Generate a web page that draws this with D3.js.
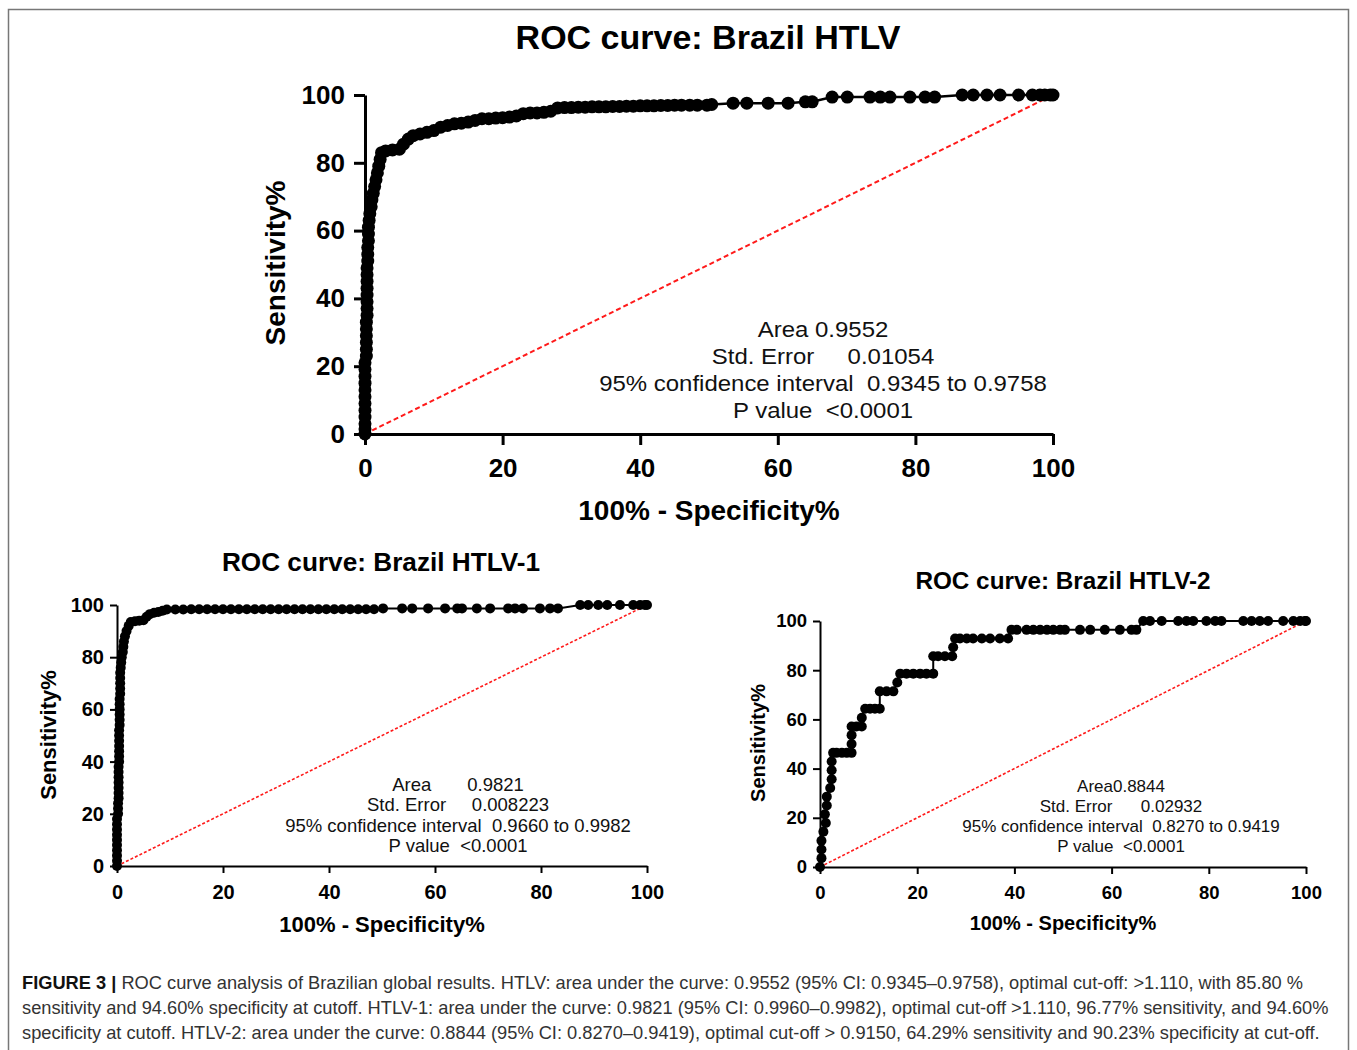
<!DOCTYPE html>
<html>
<head>
<meta charset="utf-8">
<script src="https://cdn.jsdelivr.net/npm/d3@7"></script>
<style>
  body { margin: 0; background: #fff; }
  text { font-family: "Liberation Sans", Arial, sans-serif; }
</style>
</head>
<body>
<svg id="fig" width="1357" height="1050"></svg>
<script>
// ROC points (100% - specificity, sensitivity)
var htlvSpec = [0,0,0,0,0,0,0,0,0,0,0,0,0.2,0.2,0.2,0.2,0.2,0.2,0.3,0.3,0.3,0.3,0.3,0.3,0.3,0.3,0.4,0.4,0.4,0.5,0.5,0.5,0.6,0.7,0.9,1.0,1.2,1.4,1.6,1.8,2.0,2.2,2.4,3,4,5,5.6,6.3,7,8,9,10,11,12,13,14,15,16,17,18,19,20,21,22,23,24,25,26,27,28,29,30,31,32,33,34,35,36,37,38,39,40,41,42,43,44,45,46,47.2,48.3,49.7,50.4,53.5,55.5,58.6,61.5,64,65,67.9,70.1,73.4,74.9,76.3,79.2,81.4,82.8,86.8,88.4,90.4,92.3,95,97,98.1,98.8,99.6,100];
var htlvSens = [0,1.5,3,5,7,9,11,13,15,17,19,21,23,25,27,29,31,33,35,37,39,41,43,45,47,49,51,53,55,57,59,61,63,65,67,69,71,73,75,77,79,81,83,83.5,83.8,84,85.5,87,88,88.5,89,89.5,90.5,91,91.5,91.7,92,92.5,93,93,93.2,93.3,93.5,93.8,94.5,94.7,94.7,94.9,95.2,96.2,96.3,96.3,96.4,96.4,96.5,96.5,96.5,96.6,96.6,96.7,96.7,96.8,96.8,96.8,96.9,96.9,97,97,97,97,97,97.2,97.6,97.6,97.6,97.6,98,98,99.4,99.4,99.4,99.4,99.4,99.4,99.4,99.4,100,100,100,100,100,100,100,100,100,100];

var htlv1Spec = [0,0,0,0,0,0,0,0,0,0,0.2,0.2,0.2,0.3,0.3,0.3,0.3,0.3,0.3,0.3,0.4,0.4,0.4,0.4,0.4,0.4,0.4,0.5,0.5,0.5,0.5,0.5,0.5,0.6,0.6,0.6,0.6,0.6,0.7,0.8,0.9,1.1,1.2,1.3,1.5,1.8,2.2,2.6,3.4,4.2,5,5.6,6.2,7,7.8,8.6,9.4,11,12.5,14,15.5,17,18.5,20,21.5,23,24.5,26,27.5,29,30.5,32,33.5,35,36.5,38,39.5,41,42.5,44,45.5,47,48.5,50.2,53.8,55.7,58.7,61.9,64.2,65.1,67.9,70.4,73.8,75.1,76.6,79.8,81.7,83.2,87.4,88.9,90.8,92.5,94.9,97.4,98.7,99.6,100];
var htlv1Sens = [0,2,4,6,8,10,12,14,16,18,20,22,24,26,28,30,32,34,36,38,40,42,44,46,48,50,52,54,56,58,60,62,64,66,68,70,72,74,76,78,80,82,84,86,88,90,92,93.5,93.8,94,94.2,95.5,96.5,97,97.3,97.8,98.3,98.3,98.3,98.4,98.4,98.4,98.4,98.4,98.4,98.4,98.4,98.4,98.4,98.4,98.4,98.4,98.4,98.4,98.4,98.4,98.4,98.4,98.4,98.4,98.4,98.4,98.4,98.7,98.7,98.7,98.7,98.7,98.7,98.7,98.7,98.7,98.7,98.7,98.7,98.7,98.7,98.7,100,100,100,100,100,100,100,100,100];

var htlv2Spec = [0,0.3,0.3,0.3,0.7,1.2,1.0,1.4,1.4,2.1,2.4,2.4,2.4,2.7,3.4,4.5,5.5,6.5,6.5,6.5,6.5,7.5,8.6,8.6,9.3,10.3,11.3,12.3,12.3,13.7,15.1,15.9,16.5,17.8,19.2,20.6,21.9,23.3,23.3,24.3,25.7,27.2,27.4,27.8,28.8,30.2,31.5,33.3,35,37,38.7,39.4,40.5,42.5,43.9,45.3,46.7,48,49.4,50.4,53.5,55.6,58.6,61.7,64.1,65.1,66.5,67.9,70.3,73.7,75.4,76.8,79.5,81.3,82.6,87.1,88.8,90.5,92.2,95.3,97.4,98.8,99.8,100];
var htlv2Sens = [0,3.6,7.1,10.7,14.3,17.9,21.4,25,28.6,32.1,35.7,39.3,42.9,46.4,46.4,46.4,46.4,46.4,50,53.6,57.1,57.1,57.1,60.7,64.3,64.3,64.3,64.3,71.4,71.4,71.4,75,78.6,78.6,78.6,78.6,78.6,78.6,85.7,85.7,85.7,85.7,89.3,92.9,92.9,92.9,92.9,92.9,92.9,92.9,92.9,96.4,96.4,96.4,96.4,96.4,96.4,96.4,96.4,96.4,96.4,96.4,96.4,96.4,96.4,96.4,100,100,100,100,100,100,100,100,100,100,100,100,100,100,100,100,100,100];

var tickVals = [0, 20, 40, 60, 80, 100];

var titles = ["ROC curve: Brazil HTLV", "ROC curve: Brazil HTLV-1", "ROC curve: Brazil HTLV-2"];
var yLabel = "Sensitivity%";
var xLabel = "100% - Specificity%";

var statsHtlv = ["Area 0.9552", "Std. Error     0.01054", "95% confidence interval  0.9345 to 0.9758", "P value  <0.0001"];
var statsHtlv1 = ["Area       0.9821", "Std. Error     0.008223", "95% confidence interval  0.9660 to 0.9982", "P value  <0.0001"];
var statsHtlv2 = ["Area0.8844", "Std. Error      0.02932", "95% confidence interval  0.8270 to 0.9419", "P value  <0.0001"];

var captionLines = [
  ["FIGURE 3 |", " ROC curve analysis of Brazilian global results. HTLV: area under the curve: 0.9552 (95% CI: 0.9345\u20130.9758), optimal cut-off: >1.110, with 85.80 %"],
  ["", "sensitivity and 94.60% specificity at cutoff. HTLV-1: area under the curve: 0.9821 (95% CI: 0.9960\u20130.9982), optimal cut-off >1.110, 96.77% sensitivity, and 94.60%"],
  ["", "specificity at cutoff. HTLV-2: area under the curve: 0.8844 (95% CI: 0.8270\u20130.9419), optimal cut-off > 0.9150, 64.29% sensitivity and 90.23% specificity at cut-off."]
];

var svg = d3.select("#fig");

// frame round the figure
svg.append("rect")
  .attr("x", 8.5).attr("y", 9.5)
  .attr("width", 1340).attr("height", 1048)
  .attr("fill", "none")
  .attr("stroke", "#777")
  .attr("stroke-width", 1.5);

function drawPanel(p) {
  var x = d3.scaleLinear().domain([0, 100]).range([p.left, p.right]);
  var y = d3.scaleLinear().domain([0, 100]).range([p.bottom, p.top]);
  var g = svg.append("g");

  var xAxis = g.append("g")
    .attr("transform", "translate(0," + p.bottom + ")")
    .call(d3.axisBottom(x).tickValues(tickVals).tickSize(p.tick).tickSizeOuter(0).tickPadding(p.xpad));
  var yAxis = g.append("g")
    .attr("transform", "translate(" + p.left + ",0)")
    .call(d3.axisLeft(y).tickValues(tickVals).tickSize(p.tick).tickSizeOuter(0).tickPadding(p.pad));

  [xAxis, yAxis].forEach(function(a) {
    a.select(".domain").attr("stroke", "#000").attr("stroke-width", p.axisW);
    a.selectAll(".tick line").attr("stroke", "#000").attr("stroke-width", p.axisW);
    a.selectAll(".tick text")
      .attr("fill", "#000")
      .style("font-family", "'Liberation Sans', Arial, sans-serif")
      .style("font-weight", "bold")
      .style("font-size", p.tickFont + "px");
  });

  // chance line
  g.append("line")
    .attr("x1", x(0)).attr("y1", y(0))
    .attr("x2", x(100)).attr("y2", y(100))
    .attr("stroke", "#ff1a1a")
    .attr("stroke-width", p.diagW)
    .attr("stroke-dasharray", p.dash);

  var pts = p.spec.map(function(d, i) { return [d, p.sens[i]]; });

  g.append("path")
    .datum(pts)
    .attr("fill", "none")
    .attr("stroke", "#000")
    .attr("stroke-width", p.lineW)
    .attr("d", d3.line().x(function(d) { return x(d[0]); }).y(function(d) { return y(d[1]); }));

  g.selectAll("circle.pt")
    .data(pts)
    .enter().append("circle")
    .attr("class", "pt")
    .attr("cx", function(d) { return x(d[0]); })
    .attr("cy", function(d) { return y(d[1]); })
    .attr("r", p.r)
    .attr("fill", "#000");

  g.append("text")
    .attr("x", p.titleX).attr("y", p.titleY)
    .attr("text-anchor", "middle")
    .style("font-weight", "bold").style("font-size", p.titleFont + "px")
    .text(p.title);

  g.append("text")
    .attr("x", (p.left + p.right) / 2).attr("y", p.xLabY)
    .attr("text-anchor", "middle")
    .style("font-weight", "bold").style("font-size", p.labFont + "px")
    .text(xLabel);

  g.append("text")
    .attr("transform", "translate(" + p.yLabX + "," + p.yLabY + ") rotate(-90)")
    .attr("text-anchor", "middle")
    .style("font-weight", "bold").style("font-size", p.labFont + "px")
    .text(yLabel);

  g.selectAll("text.stat")
    .data(p.stats)
    .enter().append("text")
    .attr("class", "stat")
    .attr("transform", function(d, i) {
      return "translate(" + p.statX + "," + (p.statY + i * p.statGap) + ") scale(" + p.statStretch + ",1)";
    })
    .attr("text-anchor", "middle")
    .style("white-space", "pre")
    .style("font-size", p.statFont + "px")
    .attr("fill", "#111")
    .text(function(d) { return d; });
}

drawPanel({
  left: 365, right: 1053, top: 95, bottom: 434,
  spec: htlvSpec, sens: htlvSens, r: 6.5, lineW: 2.5,
  tick: 11, pad: 9, xpad: 14, axisW: 3, tickFont: 26, diagW: 2, dash: "5,3",
  title: titles[0], titleX: 708, titleY: 49, titleFont: 34,
  labFont: 28, xLabY: 520, yLabX: 285, yLabY: 263,
  stats: statsHtlv, statX: 823, statY: 337, statGap: 27, statFont: 22, statStretch: 1.09
});

drawPanel({
  left: 117, right: 647, top: 605, bottom: 866,
  spec: htlv1Spec, sens: htlv1Sens, r: 5, lineW: 2,
  tick: 7, pad: 6, xpad: 12, axisW: 2, tickFont: 20, diagW: 1.6, dash: "3,2",
  title: titles[1], titleX: 381, titleY: 571, titleFont: 26.2,
  labFont: 22, xLabY: 932, yLabX: 56, yLabY: 735,
  stats: statsHtlv1, statX: 458, statY: 791, statGap: 20.3, statFont: 18.5, statStretch: 1
});

drawPanel({
  left: 820, right: 1306, top: 621, bottom: 867,
  spec: htlv2Spec, sens: htlv2Sens, r: 5, lineW: 2,
  tick: 7, pad: 6, xpad: 12, axisW: 2, tickFont: 18.5, diagW: 1.6, dash: "3,2",
  title: titles[2], titleX: 1063, titleY: 589, titleFont: 24.3,
  labFont: 20, xLabY: 930, yLabX: 765, yLabY: 743,
  stats: statsHtlv2, statX: 1121, statY: 792, statGap: 20, statFont: 17, statStretch: 1
});

// caption
var cap = svg.append("g");
captionLines.forEach(function(line, i) {
  var t = cap.append("text")
    .attr("x", 22)
    .attr("y", 989 + i * 25)
    .style("font-size", "18.25px")
    .style("white-space", "pre")
    .attr("fill", "#333");
  if (line[0]) t.append("tspan").style("font-weight", "bold").attr("fill", "#111").text(line[0]);
  t.append("tspan").text(line[1]);
});
</script>
</body>
</html>
